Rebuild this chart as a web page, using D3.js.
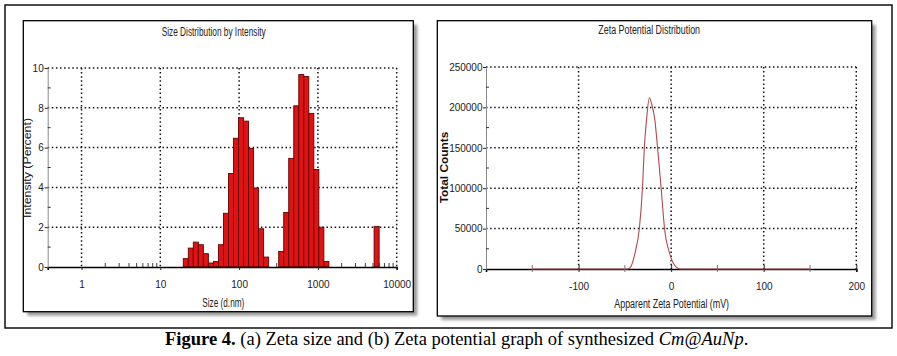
<!DOCTYPE html>
<html><head><meta charset="utf-8">
<script src="https://cdn.jsdelivr.net/npm/d3@7/dist/d3.min.js"></script>
<style>body{margin:0;background:#fff}svg{display:block}</style>
</head><body>
<svg id="c" width="897" height="356"></svg>
<script>
// ---- Data: (a) size distribution by intensity ----
const sizeBins = [21.04, 24.36, 28.21, 32.67, 37.84, 43.82, 50.75, 58.77, 68.06, 78.82, 91.28, 105.7, 122.4, 141.8, 164.2, 190.1, 220.2, 255.0, 295.3, 342.0, 396.1, 458.7, 531.2, 615.1, 712.4, 825.0, 955.4, 1106, 1281, 1484, 1718, 1990, 2305, 2669, 3091, 3580, 4145, 4801, 5560];
const intensity = [0.42, 0.95, 1.25, 1.12, 0.67, 0.2, 0.28, 1.12, 2.7, 4.7, 6.47, 7.5, 7.33, 5.96, 3.97, 1.92, 0.5, 0, 0, 0.78, 2.74, 5.46, 8.1, 9.67, 9.57, 7.72, 4.9, 2.0, 0.28, 0, 0, 0, 0, 0, 0, 0, 0, 0, 2.04];
const sizeTicks = [1, 10, 100, 1000, 10000];
const intensityTicks = [0, 2, 4, 6, 8, 10];
const intensityMinor = [1, 3, 5, 7, 9];

// ---- Data: (b) zeta potential distribution ----
const zetaMv = [-150, -47, -43.5, -39, -34.3, -31, -28.9, -26.5, -23.5, -21, -17.6, -14.8, -10.8, -7.2, -1.8, 1.5, 4.5, 7.5, 10, 150];
const zetaCounts = [0, 0, 3000, 20000, 50700, 100000, 151500, 186000, 212000, 204000, 184500, 151500, 100000, 50700, 20000, 9000, 3500, 800, 0, 0];
const zetaTicksX = [-100, 0, 100, 200];
const zetaMinorX = [-150, -50, 50, 150];
const zetaTicksY = [0, 50000, 100000, 150000, 200000, 250000];
const zetaMinorY = [25000, 75000, 125000, 175000, 225000];

const svg = d3.select("#c");
const narrow = "'Liberation Sans Narrow', 'Liberation Sans', Arial, sans-serif";
const sans = "'Liberation Sans', Arial, sans-serif";
const plain = d => String(d);

// shadow filter
const defs = svg.append("defs");
const f = defs.append("filter").attr("id","sh").attr("x","-5%").attr("y","-5%").attr("width","115%").attr("height","115%");
f.append("feGaussianBlur").attr("stdDeviation", 1.8);

// outer frame
svg.append("rect").attr("x",5).attr("y",5).attr("width",887).attr("height",323)
  .attr("fill","#fff").attr("stroke","#000").attr("stroke-width",1.4);

function panel(x0,y0,x1,y1){
  svg.append("rect").attr("x",x0+4).attr("y",y0+4).attr("width",x1-x0).attr("height",y1-y0)
    .attr("fill","#9a9a9a").attr("filter","url(#sh)");
  svg.append("rect").attr("x",x0).attr("y",y0).attr("width",x1-x0).attr("height",y1-y0)
    .attr("fill","#fff").attr("stroke","#000").attr("stroke-width",1.3);
}
panel(23.3,20.7,413.3,311.7);
panel(437.3,20.7,871.7,316);

function label(txt,x,y,w,size,opts={}){
  const t = svg.append("text").attr("x",x).attr("y",y).text(txt)
    .attr("font-family", opts.family||narrow).attr("font-size",size)
    .attr("font-weight", opts.weight||"normal")
    .attr("text-anchor","middle").attr("fill", opts.fill||"#222");
  if(w) t.attr("textLength",w).attr("lengthAdjust","spacingAndGlyphs");
  if(opts.rotate) t.attr("transform",`rotate(-90,${x},${y})`);
  return t;
}
function grid(g, lines){
  g.selectAll(null).data(lines).join("line")
    .attr("x1",d=>d[0]).attr("y1",d=>d[1]).attr("x2",d=>d[2]).attr("y2",d=>d[3])
    .attr("stroke","#111").attr("stroke-width",1.5).attr("stroke-dasharray","1.5,2.6");
}

// ================= (a) =================
const xA = d3.scaleLog().domain([0.372, 10000]).range([47.7, 396.7]);
const yA = d3.scaleLinear().domain([0, 10]).range([267, 68]);
const gA = svg.append("g");
grid(gA, intensityTicks.filter(d=>d>0).map(d=>[xA.range()[0], yA(d), xA.range()[1], yA(d)]));
grid(gA, sizeTicks.map(d=>[xA(d), yA(10), xA(d), yA(0)]));

// minor x ticks
const minorA = [];
[1,10,100,1000].forEach(dec=>{ for(let m=2;m<=9;m++) minorA.push(dec*m); });
gA.selectAll(null).data(minorA).join("line")
  .attr("x1",d=>xA(d)).attr("x2",d=>xA(d)).attr("y1",yA(0)).attr("y2",yA(0)-4)
  .attr("stroke","#444").attr("stroke-width",1);

// bars
const step = Math.log10(10000/0.4)/69;
gA.selectAll(null).data(sizeBins.map((s,i)=>({s, v:intensity[i]})).filter(d=>d.v>0)).join("rect")
  .attr("x", d=>xA(d.s/Math.pow(10,step/2)))
  .attr("width", d=>xA(d.s*Math.pow(10,step/2)) - xA(d.s/Math.pow(10,step/2)))
  .attr("y", d=>yA(d.v)).attr("height", d=>yA(0)-yA(d.v))
  .attr("fill","#e31212").attr("stroke","#5a0505").attr("stroke-width",0.9);

// axes
const axXA = d3.axisBottom(xA).tickValues(sizeTicks).tickFormat(plain).tickSize(3).tickPadding(11);
const gxA = gA.append("g").attr("transform",`translate(0,${yA(0)})`).call(axXA);
const axYA = d3.axisLeft(yA).tickValues(intensityTicks).tickFormat(plain).tickSize(3).tickPadding(1);
const gyA = gA.append("g").attr("transform",`translate(${xA.range()[0]},0)`).call(axYA);
gA.selectAll(null).data(intensityMinor).join("line")
  .attr("x1",xA.range()[0]).attr("x2",xA.range()[0]+3).attr("y1",d=>yA(d)).attr("y2",d=>yA(d))
  .attr("stroke","#333");
gyA.select(".domain").attr("stroke","#888").attr("stroke-width",1);
gxA.select(".domain").attr("stroke","#000").attr("stroke-width",1.6);

// ================= (b) =================
const xB = d3.scaleLinear().domain([-200, 200]).range([486, 856.3]);
const yB = d3.scaleLinear().domain([0, 250000]).range([269, 67]);
const gB = svg.append("g");
grid(gB, zetaTicksY.filter(d=>d>0).map(d=>[xB.range()[0], yB(d), xB.range()[1], yB(d)]));
grid(gB, zetaTicksX.map(d=>[xB(d), yB(250000), xB(d), yB(0)]));

const axXB = d3.axisBottom(xB).tickValues(zetaTicksX).tickFormat(plain).tickSize(3).tickPadding(11);
const gxB = gB.append("g").attr("transform",`translate(0,${yB(0)})`).call(axXB);
gxB.select(".domain").attr("stroke","#000").attr("stroke-width",1.6);
gxB.selectAll(".tick line").attr("y1",-4);
gB.selectAll(null).data(zetaMinorX).join("line")
  .attr("x1",d=>xB(d)).attr("x2",d=>xB(d)).attr("y1",yB(0)-4).attr("y2",yB(0)+3)
  .attr("stroke","#777");
const axYB = d3.axisLeft(yB).tickValues(zetaTicksY).tickFormat(plain).tickSize(3).tickPadding(0.5);
const gyB = gB.append("g").attr("transform",`translate(${xB.range()[0]},0)`).call(axYB);
gyB.select(".domain").attr("stroke","#888").attr("stroke-width",1);
gB.selectAll(null).data(zetaMinorY).join("line")
  .attr("x1",xB.range()[0]).attr("x2",xB.range()[0]+3).attr("y1",d=>yB(d)).attr("y2",d=>yB(d))
  .attr("stroke","#333");

const line = d3.line().x(d=>xB(d[0])).y(d=>yB(d[1])).curve(d3.curveMonotoneX);
gB.append("path").datum(zetaMv.map((m,i)=>[m, zetaCounts[i]]))
  .attr("d", line).attr("fill","none").attr("stroke","#b04a4e").attr("stroke-width",1.1);

// tick label styling
svg.selectAll(".tick text").attr("font-family",narrow).attr("font-size",10).attr("fill","#222");
svg.selectAll(".tick line").attr("stroke","#222");

// ---- titles and axis labels ----
label("Size Distribution by Intensity", 213.7, 36, 104, 12);
label("Size (d.nm)", 223.3, 307, 42, 12);
label("Intensity (Percent)", 31, 168, 100, 11.5, {family:sans, rotate:true});
label("Zeta Potential Distribution", 649.2, 34, 101.7, 12);
label("Apparent Zeta Potential (mV)", 671.7, 308, 114.7, 12);
label("Total Counts", 448, 167.5, 71.7, 11.5, {family:sans, weight:"bold", rotate:true, fill:"#111"});

// ---- caption ----
const cap = svg.append("text").attr("x",165).attr("y",345)
  .attr("font-family","'Liberation Serif','Times New Roman',serif").attr("font-size",15.5).attr("fill","#000");
cap.append("tspan").attr("font-weight","bold").text("Figure 4.");
cap.append("tspan").text(" (a) Zeta size and (b) Zeta potential graph of synthesized ");
cap.append("tspan").attr("font-style","italic").text("Cm@AuNp");
cap.append("tspan").text(".");
const w = cap.node().getComputedTextLength();
cap.attr("font-size", 15.5 * 584 / w);
</script>
</body></html>
